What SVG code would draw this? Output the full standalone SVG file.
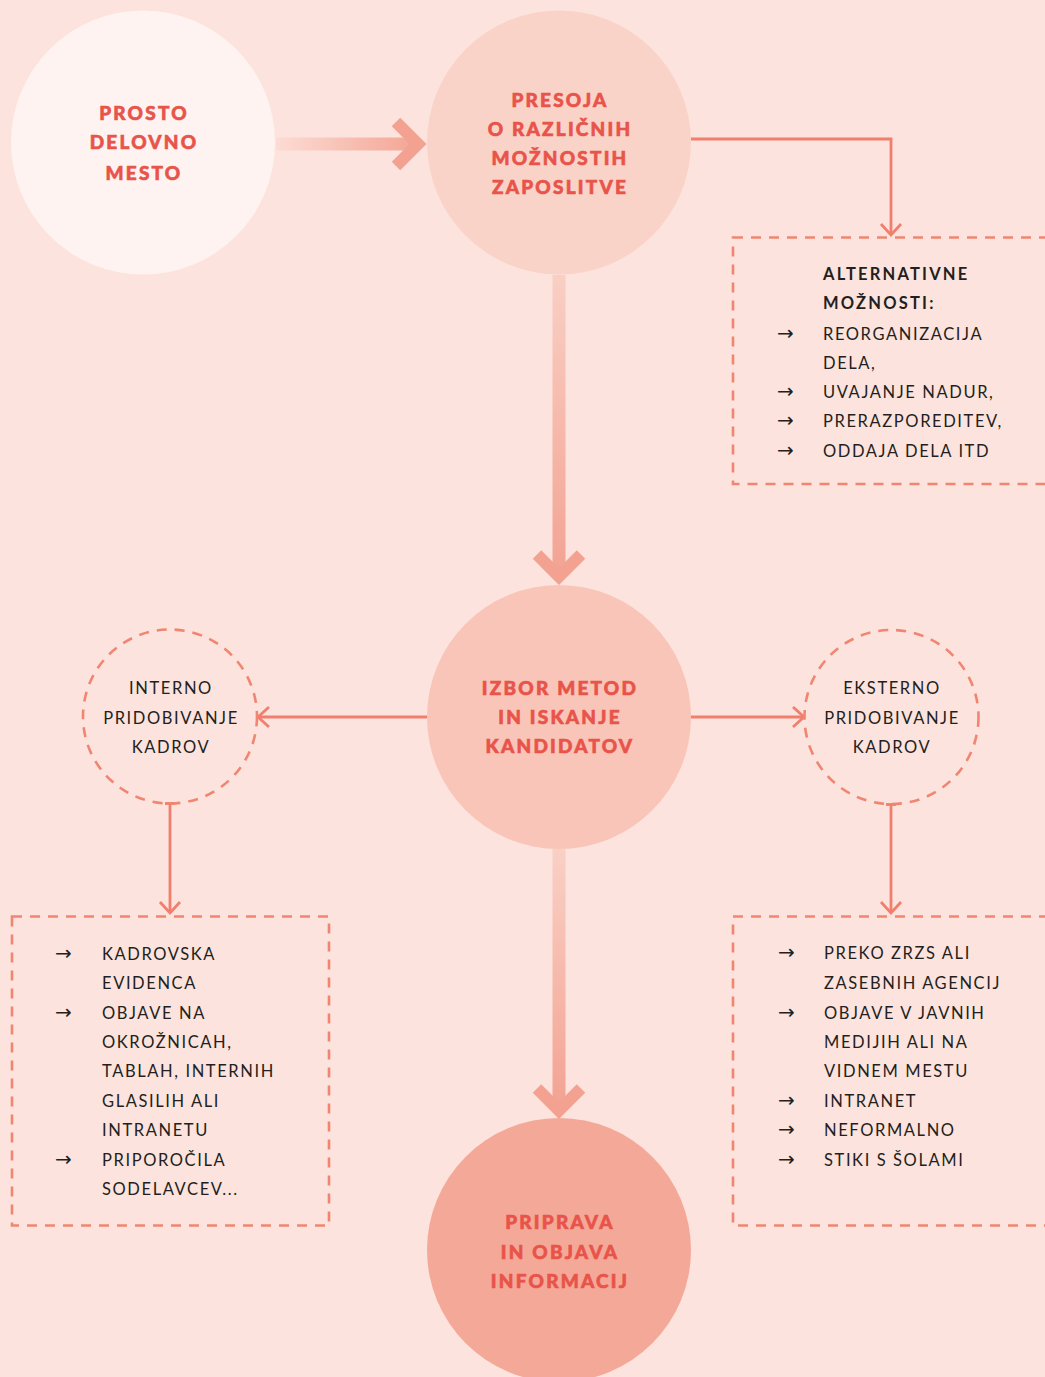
<svg xmlns="http://www.w3.org/2000/svg" width="1045" height="1377" viewBox="0 0 1045 1377">
<style>
.h{font-family:Lato,"Liberation Sans",sans-serif;font-weight:900;font-size:19px;letter-spacing:2.2px;fill:#e8534a;stroke:#e8534a;stroke-width:0.6;text-anchor:middle}
.b{font-family:Lato,"Liberation Sans",sans-serif;font-size:16.5px;letter-spacing:1.6px;fill:#231f20}
.bc{text-anchor:middle}
.bb{font-weight:bold;letter-spacing:2.2px}
.ar{font-family:"DejaVu Sans",sans-serif;font-size:20px;fill:#231f20}
.thin{fill:none;stroke:#f07f6e;stroke-width:2.8}
.dash{fill:none;stroke:#f08672;stroke-width:2.6;stroke-dasharray:10 8}
.chev{fill:none;stroke:#f3a292;stroke-width:12;stroke-linejoin:miter;stroke-linecap:butt}
</style>
<defs>
<linearGradient id="gh" x1="276" y1="0" x2="420" y2="0" gradientUnits="userSpaceOnUse">
<stop offset="0" stop-color="#fcdcd4"/><stop offset="1" stop-color="#f3a393"/>
</linearGradient>
<linearGradient id="gv1" x1="0" y1="275" x2="0" y2="575" gradientUnits="userSpaceOnUse">
<stop offset="0" stop-color="#f9cfc4"/><stop offset="1" stop-color="#f3a393"/>
</linearGradient>
<linearGradient id="gv2" x1="0" y1="849" x2="0" y2="1105" gradientUnits="userSpaceOnUse">
<stop offset="0" stop-color="#f9d0c5"/><stop offset="1" stop-color="#f3a393"/>
</linearGradient>
</defs>
<rect x="0" y="0" width="1045" height="1377" fill="#fde3dd"/>

<g id="connectors">
<rect x="276" y="137.5" width="140" height="13" fill="url(#gh)"/>
<polyline class="chev" points="396,122 418,144 396,166"/>
<rect x="552.5" y="275" width="13" height="296" fill="url(#gv1)"/>
<polyline class="chev" points="537,554.5 559,576.5 581,554.5"/>
<rect x="552.5" y="849" width="13" height="256" fill="url(#gv2)"/>
<polyline class="chev" points="537,1088.5 559,1110.5 581,1088.5"/>
<polyline class="thin" points="691,139 891,139 891,235"/>
<polyline class="thin" points="881,224 891,235 901,224"/>
<line class="thin" x1="427" y1="717" x2="258" y2="717"/>
<polyline class="thin" points="269,707 258,717 269,727"/>
<line class="thin" x1="691" y1="717" x2="804" y2="717"/>
<polyline class="thin" points="793,707 804,717 793,727"/>
<line class="thin" x1="170" y1="803" x2="170" y2="913"/>
<line class="thin" x1="165" y1="803.5" x2="175" y2="803.5"/>
<polyline class="thin" points="160,902 170,913 180,902"/>
<line class="thin" x1="891" y1="804" x2="891" y2="913"/>
<line class="thin" x1="886" y1="804.5" x2="896" y2="804.5"/>
<polyline class="thin" points="881,902 891,913 901,902"/>
</g>

<g id="node-prosto">
<circle cx="143" cy="142.5" r="132" fill="#fef3f0"/>
<text class="h" x="144" y="120">PROSTO</text>
<text class="h" x="144" y="149">DELOVNO</text>
<text class="h" x="144" y="179.5">MESTO</text>
</g>

<g id="node-presoja">
<circle cx="559" cy="142.5" r="132" fill="#f9d3c8"/>
<text class="h" x="560" y="106.5">PRESOJA</text>
<text class="h" x="560" y="135.5">O RAZLIČNIH</text>
<text class="h" x="560" y="165">MOŽNOSTIH</text>
<text class="h" x="560" y="194">ZAPOSLITVE</text>
</g>

<g id="node-alternativne">
<rect class="dash" x="733" y="237.5" width="330" height="246.5"/>
<text class="b bb" x="823" y="280">ALTERNATIVNE</text>
<text class="b bb" x="823" y="309.3">MOŽNOSTI:</text>
<text class="ar" x="777" y="340">→</text>
<text class="b" x="823" y="340">REORGANIZACIJA</text>
<text class="b" x="823" y="369">DELA,</text>
<text class="ar" x="777" y="397.7">→</text>
<text class="b" x="823" y="397.7">UVAJANJE NADUR,</text>
<text class="ar" x="777" y="427.3">→</text>
<text class="b" x="823" y="427.3">PRERAZPOREDITEV,</text>
<text class="ar" x="777" y="456.7">→</text>
<text class="b" x="823" y="456.7">ODDAJA DELA ITD</text>
</g>

<g id="node-izbor">
<circle cx="559" cy="717" r="132" fill="#f8c5b8"/>
<text class="h" x="560" y="695">IZBOR METOD</text>
<text class="h" x="560" y="724.3">IN ISKANJE</text>
<text class="h" x="560" y="753.3">KANDIDATOV</text>
</g>

<g id="node-interno">
<circle class="dash" cx="170" cy="716.5" r="87"/>
<text class="b bc" x="171" y="694">INTERNO</text>
<text class="b bc" x="171" y="723.5">PRIDOBIVANJE</text>
<text class="b bc" x="171" y="753">KADROV</text>
</g>

<g id="node-eksterno">
<circle class="dash" cx="891.5" cy="717" r="87"/>
<text class="b bc" x="892" y="694">EKSTERNO</text>
<text class="b bc" x="892" y="723.5">PRIDOBIVANJE</text>
<text class="b bc" x="892" y="753">KADROV</text>
</g>

<g id="node-interno-list">
<rect class="dash" x="12" y="916.5" width="317" height="309"/>
<text class="ar" x="55" y="960">→</text>
<text class="b" x="102" y="960">KADROVSKA</text>
<text class="b" x="102" y="989.3">EVIDENCA</text>
<text class="ar" x="55" y="1019">→</text>
<text class="b" x="102" y="1019">OBJAVE NA</text>
<text class="b" x="102" y="1048">OKROŽNICAH,</text>
<text class="b" x="102" y="1077">TABLAH, INTERNIH</text>
<text class="b" x="102" y="1106.5">GLASILIH ALI</text>
<text class="b" x="102" y="1135.7">INTRANETU</text>
<text class="ar" x="55" y="1165.5">→</text>
<text class="b" x="102" y="1165.5">PRIPOROČILA</text>
<text class="b" x="102" y="1195">SODELAVCEV...</text>
</g>

<g id="node-eksterno-list">
<rect class="dash" x="733" y="916.5" width="330" height="309"/>
<text class="ar" x="778" y="959.3">→</text>
<text class="b" x="824" y="959.3">PREKO ZRZS ALI</text>
<text class="b" x="824" y="989.3">ZASEBNIH AGENCIJ</text>
<text class="ar" x="778" y="1019">→</text>
<text class="b" x="824" y="1019">OBJAVE V JAVNIH</text>
<text class="b" x="824" y="1047.7">MEDIJIH ALI NA</text>
<text class="b" x="824" y="1077.3">VIDNEM MESTU</text>
<text class="ar" x="778" y="1106.7">→</text>
<text class="b" x="824" y="1106.7">INTRANET</text>
<text class="ar" x="778" y="1135.7">→</text>
<text class="b" x="824" y="1135.7">NEFORMALNO</text>
<text class="ar" x="778" y="1165.7">→</text>
<text class="b" x="824" y="1165.7">STIKI S ŠOLAMI</text>
</g>

<g id="node-priprava">
<circle cx="559" cy="1250" r="132" fill="#f4a998"/>
<text class="h" x="560" y="1229">PRIPRAVA</text>
<text class="h" x="560" y="1258.5">IN OBJAVA</text>
<text class="h" x="560" y="1288">INFORMACIJ</text>
</g>
</svg>
